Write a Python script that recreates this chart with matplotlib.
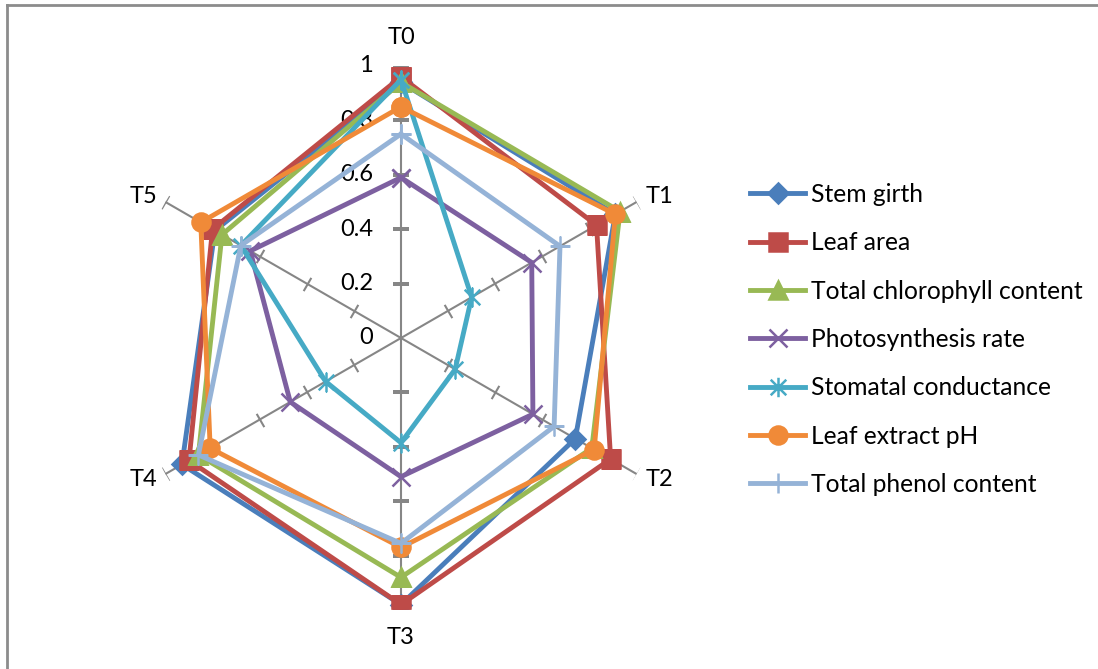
import numpy as np
import matplotlib
matplotlib.use('Agg')
import matplotlib.pyplot as plt
from matplotlib.path import Path
from matplotlib.lines import Line2D
from matplotlib.markers import MarkerStyle
from matplotlib.transforms import Affine2D

plt.rcParams['font.family'] = ['Lato', 'DejaVu Sans']

# ================= data =================
axis_labels = ['T0', 'T1', 'T2', 'T3', 'T4', 'T5']
series_names = ['Stem girth', 'Leaf area', 'Total chlorophyll content',
                'Photosynthesis rate', 'Stomatal conductance',
                'Leaf extract pH', 'Total phenol content']
stem_girth = [0.94, 0.91, 0.74, 0.98, 0.93, 0.79]
leaf_area = [0.96, 0.83, 0.89, 0.98, 0.90, 0.80]
chlorophyll = [0.94, 0.93, 0.81, 0.88, 0.86, 0.76]
photosynthesis = [0.59, 0.555, 0.56, 0.51, 0.47, 0.64]
stomatal = [0.95, 0.30, 0.23, 0.385, 0.32, 0.68]
leaf_ph = [0.85, 0.91, 0.82, 0.77, 0.81, 0.85]
phenol = [0.75, 0.675, 0.65, 0.755, 0.86, 0.68]
r_ticks = [0, 0.2, 0.4, 0.6, 0.8, 1.0]
r_tick_labels = ['0', '0.2', '0.4', '0.6', '0.8', '1']

# ================= styles =================
colors = ['#4A7EBB', '#BE4B48', '#98B954', '#7D60A0', '#46AAC5', '#F08A38', '#95B3D7']
star = Path([(0, -1), (0, 1), (-0.8, -0.8), (0.8, 0.8), (-0.8, 0.8), (0.8, -0.8)],
            [Path.MOVETO, Path.LINETO, Path.MOVETO, Path.LINETO, Path.MOVETO, Path.LINETO])
tick_path = Path([(-1, 0), (1, 0)], [Path.MOVETO, Path.LINETO])
markers = ['D', 's', '^', 'x', star, 'o', '+']
msizes = [10, 13, 13, 13, 14, 13, 14]
all_values = [stem_girth, leaf_area, chlorophyll, photosynthesis, stomatal, leaf_ph, phenol]
# category label offsets from spoke ends (pixels)
label_offsets = [(0, 28), (23, 5), (23, -6), (0, -28), (-22, -6), (-22, 5)]

W, H = 1098, 669
fig = plt.figure(figsize=(W / 100, H / 100), dpi=100)
px = 0.72  # pixels -> points at dpi 100

cx, cy, R = 401, 338, 272
ax = fig.add_axes([(cx - R) / W, (H - cy - R) / H, 2 * R / W, 2 * R / H], projection='polar')
ax.set_theta_offset(np.pi / 2)
ax.set_theta_direction(-1)
ax.set_ylim(0, 1)
ax.grid(False)
ax.set_xticks([])
ax.set_yticks([])
ax.spines['polar'].set_visible(False)
ax.patch.set_alpha(0)

n = len(axis_labels)
theta = np.arange(n) * 2 * np.pi / n

# spokes with tick marks
for i, th in enumerate(theta):
    ax.plot([th, th], [0, 1], color='#868686', lw=1.5, zorder=1)
    tick_marker = MarkerStyle(tick_path, transform=Affine2D().rotate_deg(-i * 360 / n))
    ax.plot([th] * 5, r_ticks[1:], linestyle='none', marker=tick_marker,
            markersize=11, markeredgewidth=1.5, color='#868686', zorder=1)
    ox, oy = label_offsets[i]
    ax.annotate(axis_labels[i], xy=(th, 1), xytext=(ox * px, oy * px),
                textcoords='offset points', ha='center', va='center', fontsize=17)

# radial tick labels
for r, lab in zip(r_ticks, r_tick_labels):
    ax.annotate(lab, xy=(0, r), xytext=(-28 * px, 0), textcoords='offset points',
                ha='right', va='center', fontsize=17)

# series
handles = []
th_closed = np.append(theta, theta[0])
for name, vals, c, m, ms in zip(series_names, all_values, colors, markers, msizes):
    v = np.append(vals, vals[0])
    ln, = ax.plot(th_closed, v, color=c, lw=3.5, marker=m, markersize=ms,
                  markerfacecolor=c, markeredgecolor=c, markeredgewidth=1.8,
                  zorder=3, label=name)
    handles.append(ln)

leg = fig.legend(handles=handles, loc='upper left', bbox_to_anchor=(750 / W, 1 - 183 / H),
                 frameon=False, fontsize=17.7, handlelength=2.25, handletextpad=0.25,
                 labelspacing=1.03, borderpad=0, borderaxespad=0)

# outer frame (left and top edges visible)
fig.add_artist(Line2D([7 / W, 7 / W], [0, 1 - 5 / H], color='#8C8C8C', lw=2,
                      transform=fig.transFigure))
fig.add_artist(Line2D([7 / W, 1], [1 - 5 / H, 1 - 5 / H], color='#8C8C8C', lw=2,
                      transform=fig.transFigure))

fig.savefig('out.png', dpi=100)
